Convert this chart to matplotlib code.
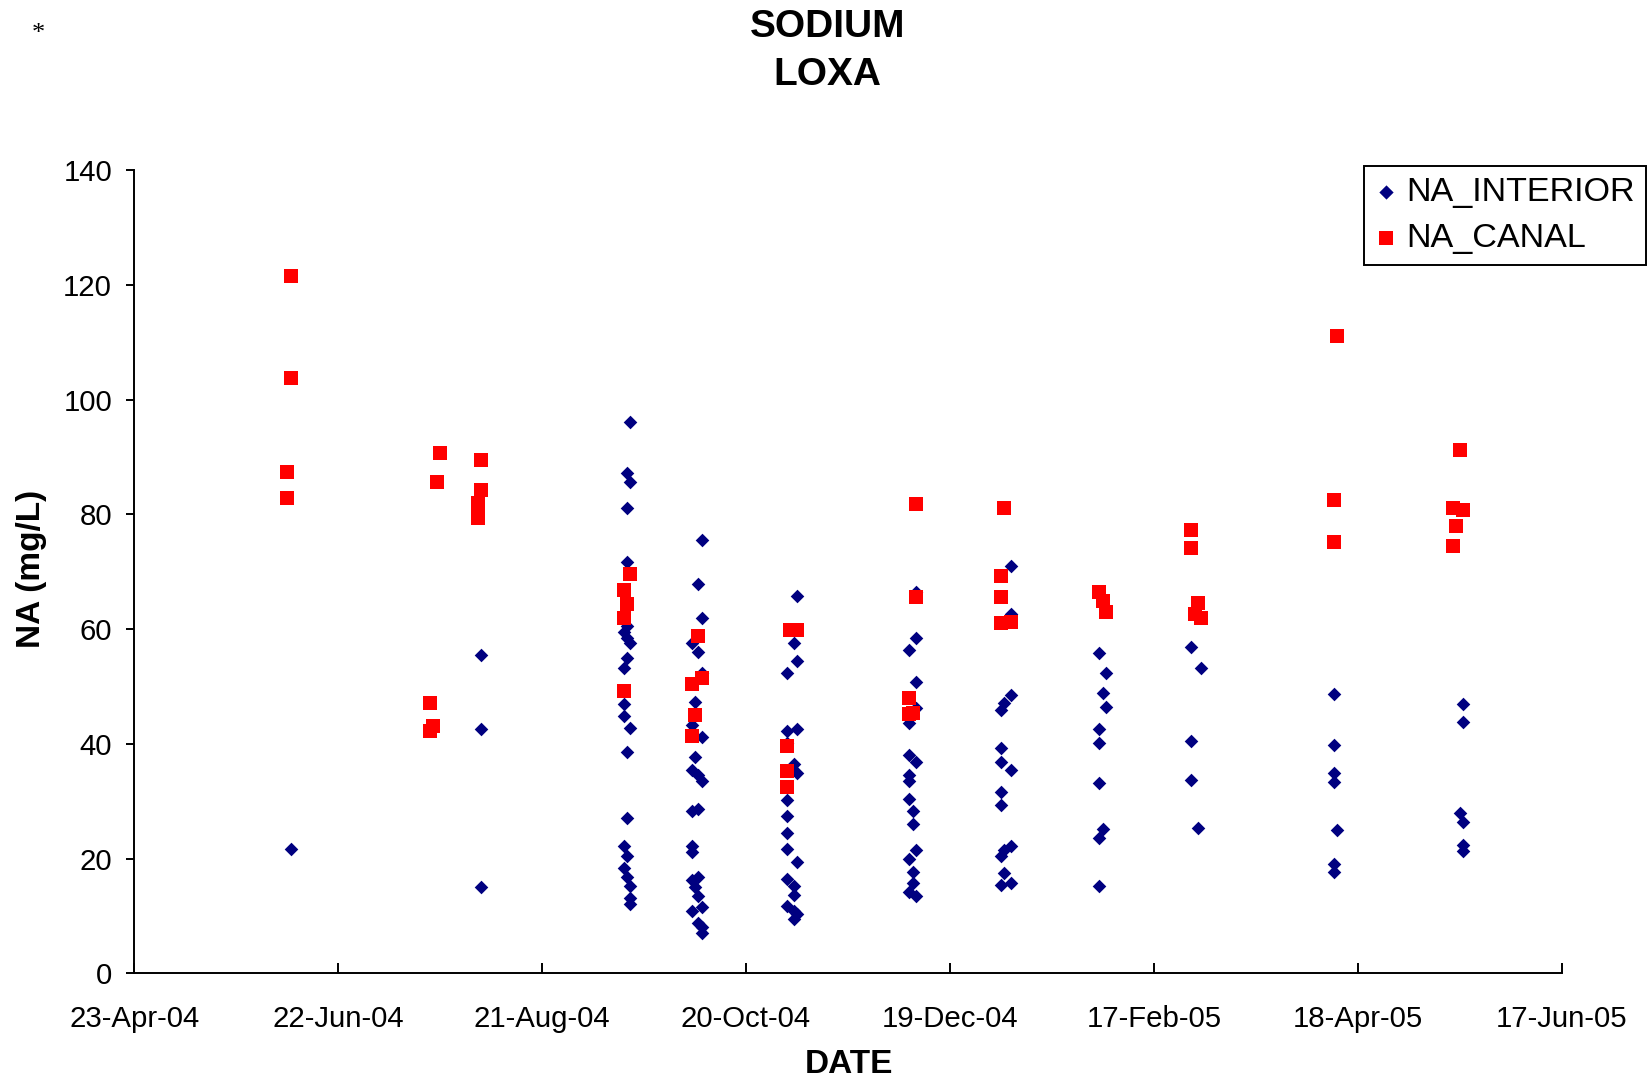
import matplotlib
matplotlib.use("Agg")
import matplotlib.pyplot as plt
import matplotlib.dates as mdates
import numpy as np

plt.rcParams['font.family'] = ['Liberation Sans', 'DejaVu Sans']

# ---------------- data ----------------
interior_dates = ['2004-06-08', '2004-08-03', '2004-09-14', '2004-09-15', '2004-09-16',
                  '2004-10-04', '2004-10-05', '2004-10-06', '2004-10-07',
                  '2004-11-01', '2004-11-03', '2004-11-04',
                  '2004-12-07', '2004-12-08', '2004-12-09',
                  '2005-01-03', '2005-01-04', '2005-01-06',
                  '2005-02-01', '2005-02-02', '2005-02-03',
                  '2005-02-28', '2005-03-02', '2005-03-03',
                  '2005-04-11', '2005-04-12', '2005-05-18', '2005-05-19']
interior_values = [[21.6],
                   [55.4, 42.6, 15.0],
                   [59.5, 53.2, 47.0, 44.8, 22.1, 18.4],
                   [87.2, 81.1, 71.6, 60.5, 58.5, 55.0, 38.6, 27.1, 20.5, 16.8],
                   [96.1, 85.6, 57.6, 42.8, 15.3, 13.1, 12.1],
                   [57.6, 43.3, 35.5, 28.3, 22.1, 21.2, 16.2, 10.9],
                   [47.3, 37.7, 15.0],
                   [67.9, 56.0, 34.6, 28.7, 16.8, 13.4, 8.7],
                   [75.6, 61.9, 52.3, 41.1, 33.6, 11.5, 8.1, 7.0],
                   [52.3, 42.3, 40.2, 30.2, 27.4, 24.5, 21.6, 16.5, 11.8],
                   [57.6, 36.4, 15.3, 13.7, 10.9, 9.4],
                   [65.8, 54.5, 42.5, 34.9, 19.4, 10.3],
                   [56.3, 43.6, 38.0, 34.6, 33.6, 30.3, 19.9, 14.2],
                   [28.2, 26.0, 17.6, 15.7],
                   [66.5, 58.5, 50.8, 46.2, 36.9, 21.5, 13.4],
                   [45.9, 39.3, 36.9, 31.6, 29.4, 20.5, 15.4],
                   [47.1, 21.5, 17.4],
                   [71.0, 62.6, 48.5, 35.4, 22.2, 15.7],
                   [55.8, 42.5, 40.1, 33.2, 23.6, 15.2],
                   [48.8, 25.1],
                   [52.3, 46.4],
                   [56.8, 40.4, 33.7],
                   [25.4],
                   [53.2],
                   [48.6, 39.8, 34.9, 33.3, 19.0, 17.6],
                   [25.0],
                   [28.0],
                   [47.0, 43.8, 26.3, 22.3, 21.3]]

canal_dates = ['2004-06-07', '2004-06-08', '2004-07-19', '2004-07-20', '2004-07-21', '2004-07-22',
               '2004-08-02', '2004-08-03', '2004-09-14', '2004-09-15', '2004-09-16',
               '2004-10-04', '2004-10-05', '2004-10-06', '2004-10-07',
               '2004-11-01', '2004-11-02', '2004-11-04',
               '2004-12-07', '2004-12-08', '2004-12-09',
               '2005-01-03', '2005-01-04', '2005-01-06',
               '2005-02-01', '2005-02-02', '2005-02-03',
               '2005-02-28', '2005-03-01', '2005-03-02', '2005-03-03',
               '2005-04-11', '2005-04-12',
               '2005-05-16', '2005-05-17', '2005-05-18', '2005-05-19']
canal_values = [[87.4, 82.9], [121.6, 103.7], [47.1, 42.2], [43.1], [85.7], [90.6],
                [82.0, 80.6, 79.3], [89.5, 84.2], [66.8, 61.9, 49.2], [64.3], [69.6],
                [50.4, 41.4], [45.0], [58.8], [51.5],
                [39.7, 35.2, 32.4], [59.9], [59.8],
                [48.0, 45.2], [45.3], [81.8, 65.5],
                [69.3, 65.5, 61.0], [81.1], [61.3],
                [66.5], [64.8], [63.0],
                [77.3, 74.2], [62.7], [64.5], [62.0],
                [82.5, 75.2], [111.1],
                [81.1, 74.5], [78.0], [91.2], [80.8]]

x_start = '2004-04-23'
x_end = '2005-06-17'
tick_step_days = 60
y_ticks = [0, 20, 40, 60, 80, 100, 120, 140]


def expand(dates, groups):
    xs, ys = [], []
    for d, vals in zip(dates, groups):
        for v in vals:
            xs.append(np.datetime64(d))
            ys.append(v)
    return np.array(xs), np.array(ys)


ix, iy = expand(interior_dates, interior_values)
cx, cy = expand(canal_dates, canal_values)

# ---------------- figure ----------------
W, H = 1650, 1081
fig = plt.figure(figsize=(W / 100, H / 100), dpi=100)
ax = fig.add_axes([134.3 / W, 107.7 / H, (1561.7 - 134.3) / W, 803.3 / H])

ax.scatter(ix, iy, marker='D', s=48, color='#000080', linewidths=0,
           label='NA_INTERIOR', zorder=3, clip_on=False)
ax.scatter(cx, cy, marker='s', s=100, color='#FF0000', linewidths=0,
           label='NA_CANAL', zorder=4, clip_on=False)

start = np.datetime64(x_start)
end = np.datetime64(x_end)
ax.set_xlim(start, end)
ticks = start + np.arange(0, 421, tick_step_days).astype('timedelta64[D]')
ax.set_xticks(ticks)
ax.xaxis.set_major_formatter(mdates.DateFormatter('%d-%b-%y'))
ax.set_ylim(0, 140)
ax.set_yticks(y_ticks)

for s in ['top', 'right']:
    ax.spines[s].set_visible(False)
for s in ['left', 'bottom']:
    ax.spines[s].set_linewidth(1.4)
    ax.spines[s].set_color('black')

ax.tick_params(axis='x', direction='in', length=7, width=1.4, pad=23,
               labelsize=21.2, colors='black')
ax.tick_params(axis='y', direction='out', length=6, width=1.4, pad=10,
               labelsize=21.2, colors='black')

# texts
fig.text(827.8 / W, 1 - 36.7 / H, 'SODIUM', ha='center', va='baseline',
         fontsize=28, fontweight='bold')
fig.text(827.8 / W, 1 - 85 / H, 'LOXA', ha='center', va='baseline',
         fontsize=28, fontweight='bold')
fig.text(849 / W, 1 - 1073 / H, 'DATE', ha='center', va='baseline',
         fontsize=24, fontweight='bold')
fig.text(40 / W, 1 - 569 / H, 'NA (mg/L)', ha='center', va='baseline',
         rotation=90, rotation_mode='anchor', fontsize=24, fontweight='bold')
fig.text(38 / W, 1 - 40.3 / H, '*', ha='center', va='baseline',
         fontsize=19, family=['Liberation Serif', 'DejaVu Serif'])

leg = ax.legend(loc='upper right', bbox_to_anchor=(1646 / W, 1 - 165.7 / H),
                bbox_transform=fig.transFigure, fontsize=24.6, frameon=True,
                fancybox=False, shadow=False, borderpad=0.32, labelspacing=0.44,
                handlelength=0.65, handletextpad=0.27, borderaxespad=0,
                scatterpoints=1, markerscale=1.05)
leg.get_frame().set_edgecolor('black')
leg.get_frame().set_linewidth(1.4)
leg.get_frame().set_alpha(1)

fig.savefig('out.png', dpi=100, facecolor='white')
